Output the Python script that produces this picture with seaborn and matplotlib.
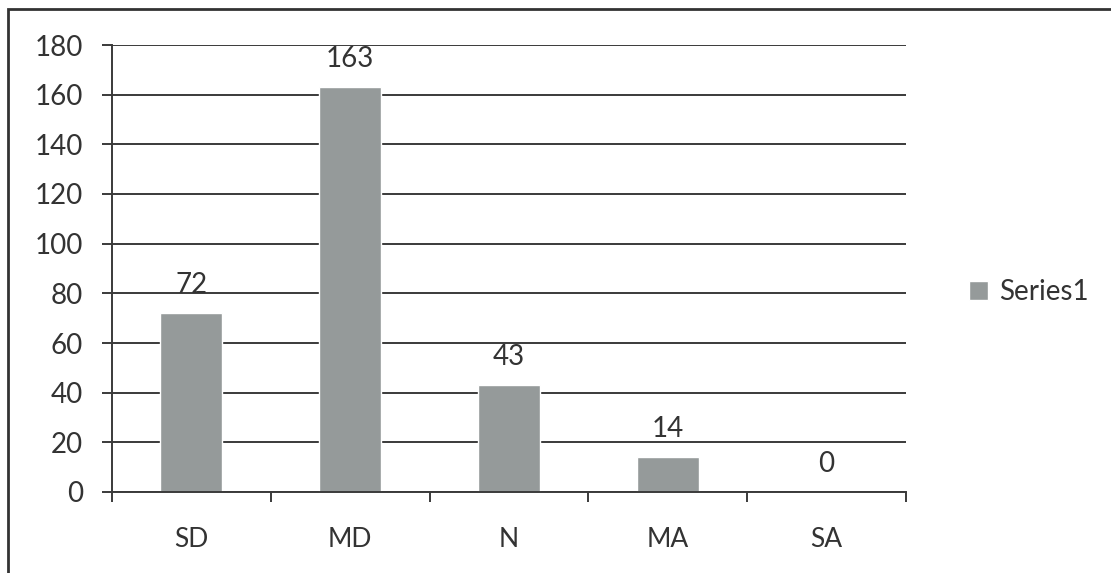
import pandas as pd
import seaborn as sns
import matplotlib.pyplot as plt
from matplotlib.patches import Rectangle

categories = ['SD', 'MD', 'N', 'MA', 'SA']
counts = [72, 163, 43, 14, 0]
series_name = 'Series1'

df = pd.DataFrame({'Category': categories, 'Count': counts, 'Series': series_name})

sns.set_style('white')
plt.rcParams['font.family'] = ['Lato', 'DejaVu Sans']
bar_color = '#959a9a'
line_color = '#3a3a3a'
text_color = '#333333'

fig = plt.figure(figsize=(11.11, 5.73), dpi=100)
ax = fig.add_axes([112/1111, 1-492/573, (906-112)/1111, (492-45)/573])

sns.barplot(data=df, x='Category', y='Count', hue='Series', palette=[bar_color],
            width=0.39, ax=ax, saturation=1, legend=True)

ax.set_ylim(0, 180)
ax.set_xlim(-0.5, len(categories) - 0.5)
ax.set_yticks(range(0, 181, 20))
ax.yaxis.grid(True, color=line_color, linewidth=1.4)
ax.set_axisbelow(True)
ax.set_xlabel('')
ax.set_ylabel('')

for s in ['top', 'right']:
    ax.spines[s].set_visible(False)
for s in ['left', 'bottom']:
    ax.spines[s].set_color(line_color)
    ax.spines[s].set_linewidth(1.4)

ax.tick_params(axis='y', length=7, width=1.4, color=line_color, direction='out',
               labelsize=20, pad=14, labelcolor=text_color, left=True)
# category labels centered, ticks between categories
ax.set_xticks(range(len(categories)))
ax.set_xticklabels(categories)
ax.tick_params(axis='x', which='major', length=0, labelsize=19, pad=25, labelcolor=text_color)
ax.set_xticks([i - 0.5 for i in range(len(categories) + 1)], minor=True)
ax.tick_params(axis='x', which='minor', length=7, width=1.4, color=line_color, direction='out', bottom=True)

for i, v in enumerate(counts):
    ax.annotate(str(v), (i, v), xytext=(0, 11), textcoords='offset points',
                ha='center', va='bottom', fontsize=20, color=text_color)

leg = ax.get_legend()
handles = leg.legend_handles
leg.remove()
fig.legend(handles, [series_name], loc='center left', bbox_to_anchor=(944/1111, 1-292/573),
           frameon=False, fontsize=20, handlelength=0.7, handleheight=0.7, handletextpad=0.4,
           labelcolor=text_color)

# outer chart frame (right and bottom lie outside the image)
fig.patches.append(Rectangle((8/1111, -0.1), 1.2, 1-9/573+0.1, transform=fig.transFigure,
                             fill=False, edgecolor=text_color, linewidth=2))

fig.savefig('out.png', dpi=100)
